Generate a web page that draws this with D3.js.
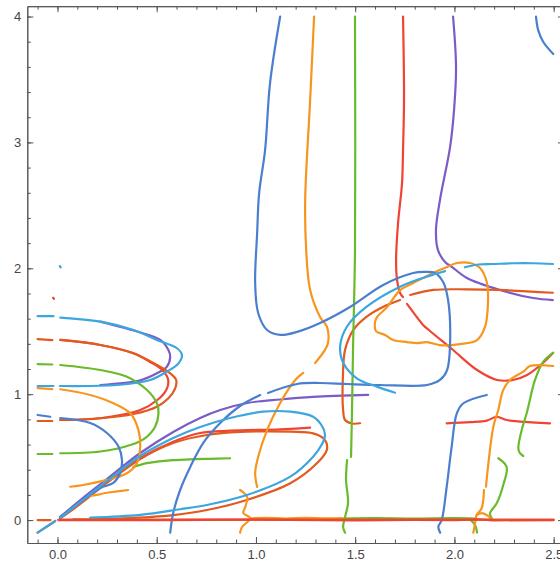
<!DOCTYPE html>
<html>
<head>
<meta charset="utf-8">
<script src="https://cdn.jsdelivr.net/npm/d3@7"></script>
<style>
  html, body { margin: 0; padding: 0; background: #fff; }
  svg { display: block; }
  .tick text { font-family: "Liberation Sans", Arial, sans-serif; font-size: 13px; fill: #444; }
</style>
</head>
<body>
<svg id="chart" width="560" height="566"></svg>
<script>
// ---------------- data (data units) ----------------
const xTickValues = [0, 0.5, 1, 1.5, 2, 2.5];
const xTickLabels = ["0.0", "0.5", "1.0", "1.5", "2.0", "2.5"];
const yTickValues = [0, 1, 2, 3, 4];
const yTickLabels = ["0", "1", "2", "3", "4"];
const xMinorTicks = [-0.1,0,0.1,0.2,0.3,0.4,0.5,0.6,0.7,0.8,0.9,1,1.1,1.2,1.3,1.4,1.5,1.6,1.7,1.8,1.9,2,2.1,2.2,2.3,2.4,2.5];
const yMinorTicks = [0,0.2,0.4,0.6,0.8,1,1.2,1.4,1.6,1.8,2,2.2,2.4,2.6,2.8,3,3.2,3.4,3.6,3.8,4];

const purpleCurves = [
  [[0.216,1.576],[0.417,1.49],[0.518,1.431],[0.559,1.351],[0.568,1.298],[0.551,1.218],[0.501,1.166],[0.417,1.11],[0.216,1.073]],
  [[0.014,0.025],[0.115,0.159],[0.249,0.326],[0.417,0.533],[0.583,0.700],[0.719,0.811],[0.820,0.874],[0.956,0.930],[1.122,0.958],[1.288,0.978],[1.565,0.994]],
  [[1.993,4.0],[2.008,3.598],[1.998,3.257],[1.978,2.963],[1.927,2.542],[1.907,2.304],[1.917,2.145],[1.953,2.050],[1.988,2.010],[2.063,1.923],[2.229,1.828],[2.396,1.764],[2.496,1.748]]
];
const redCurves = [
  [[0.014,1.431],[0.216,1.391],[0.383,1.325],[0.467,1.256],[0.528,1.192],[0.558,1.113],[0.548,1.034],[0.503,0.954],[0.417,0.874],[0.216,0.809],[0.014,0.795]],
  [[0.014,0.017],[0.115,0.136],[0.249,0.303],[0.417,0.493],[0.583,0.623],[0.719,0.692],[0.870,0.710],[1.122,0.721],[1.273,0.734]],
  [[1.741,4.0],[1.746,3.337],[1.741,2.940],[1.736,2.678],[1.716,2.360],[1.706,2.066],[1.711,1.907],[1.726,1.804],[1.741,1.772]],
  [[1.761,1.717],[1.776,1.685],[1.842,1.550],[1.877,1.502],[1.993,1.351],[2.114,1.192],[2.215,1.113],[2.295,1.113],[2.366,1.153],[2.446,1.248],[2.496,1.327]],
  [[1.961,0.769],[2.079,0.778],[2.163,0.790],[2.213,0.821],[2.263,0.795],[2.331,0.782],[2.482,0.769]],
  [[-0.022,1.766],[-0.018,1.758]]
];
const darkOrangeCurves = [
  [[-0.1,1.438],[-0.026,1.430]],
  [[0.014,1.431],[0.216,1.391],[0.383,1.325],[0.501,1.232],[0.568,1.166],[0.598,1.113],[0.593,1.047],[0.559,0.968],[0.501,0.901],[0.383,0.843],[0.216,0.809],[0.014,0.795]],
  [[-0.026,0.787],[-0.1,0.787]],
  [[0.014,0.013],[0.115,0.128],[0.249,0.295],[0.417,0.485],[0.583,0.612],[0.753,0.676],[0.954,0.702],[1.173,0.702],[1.288,0.689],[1.348,0.636],[1.357,0.557],[1.307,0.451],[1.173,0.292],[0.954,0.160],[0.753,0.080],[0.583,0.040],[0.331,0.014],[0.080,0.005]],
  [[-0.1,-0.1],[-0.011,-0.007]],
  [[2.496,1.806],[2.229,1.828],[2.062,1.833],[1.894,1.828],[1.777,1.788]],
  [[1.726,1.748],[1.642,1.695],[1.558,1.616],[1.491,1.511],[1.449,1.352],[1.438,1.139],[1.439,0.875],[1.449,0.795],[1.484,0.767],[1.525,0.769]]
];
const greenCurves = [
  [[-0.1,1.239],[-0.026,1.236]],
  [[0.014,1.232],[0.216,1.192],[0.350,1.139],[0.451,1.033],[0.501,0.928],[0.509,0.848],[0.492,0.742],[0.442,0.652],[0.367,0.596],[0.216,0.545],[0.014,0.531]],
  [[-0.026,0.525],[-0.1,0.525]],
  [[0.382,0.422],[0.45,0.452],[0.501,0.464],[0.58,0.476],[0.669,0.483],[0.76,0.487],[0.870,0.491]],
  [[1.499,4.0],[1.499,2.145],[1.489,1.351],[1.484,0.875],[1.479,0.501]],
  [[1.459,0.477],[1.454,0.319],[1.464,0.136],[1.449,0.025],[1.439,-0.055],[1.449,-0.1]],
  [[2.498,1.330],[2.448,1.258],[2.406,1.113],[2.364,0.848],[2.339,0.716],[2.322,0.570],[2.330,0.531],[2.347,0.509]],
  [[2.221,0.491],[2.263,0.422],[2.246,0.279],[2.213,0.133],[2.179,0.054],[2.188,0.014]],
  [[2.079,0.003],[2.104,-0.039],[2.114,-0.1]],
  [[1.43,0.012],[1.6,0.015],[1.8,0.012],[2.0,0.015],[2.1,0.012]]
];
const orangeCurves = [
  [[-0.1,1.049],[-0.026,1.041]],
  [[0.014,1.039],[0.165,0.994],[0.282,0.928],[0.367,0.848],[0.408,0.715],[0.417,0.584],[0.400,0.452],[0.350,0.372],[0.249,0.319],[0.131,0.279],[0.064,0.265]],
  [[0.155,0.191],[0.20,0.200],[0.241,0.215],[0.30,0.228],[0.356,0.239]],
  [[1.293,4.0],[1.273,3.337],[1.248,2.543],[1.253,2.146],[1.273,1.828],[1.323,1.614],[1.358,1.534],[1.363,1.407],[1.348,1.352],[1.298,1.248]],
  [[1.238,1.169],[1.198,1.113],[1.122,0.930],[1.056,0.715],[1.011,0.501],[0.996,0.374],[1.006,0.263]],
  [[0.920,0.239],[0.956,0.183],[0.946,0.104],[0.936,0.056],[0.971,0.014],[0.930,-0.055],[0.920,-0.1]],
  [[0.97,0.014],[1.05,0.018],[1.15,0.012],[1.25,0.018],[1.35,0.014],[1.43,0.016]],
  [[1.963,2.010],[1.892,1.963],[1.792,1.883],[1.726,1.827],[1.661,1.692],[1.610,1.613],[1.600,1.573],[1.605,1.501],[1.651,1.470],[1.691,1.430],[1.761,1.414],[1.812,1.406],[1.862,1.414],[1.927,1.390],[2.028,1.398],[2.114,1.430],[2.154,1.534],[2.169,1.724],[2.164,1.883],[2.129,2.002],[2.079,2.042],[2.013,2.042],[1.963,2.010]],
  [[2.498,1.224],[2.381,1.224],[2.347,1.179],[2.280,1.113],[2.246,1.034],[2.221,0.875],[2.196,0.742],[2.171,0.451],[2.159,0.265]],
  [[2.149,0.239],[2.137,0.094],[2.112,0.041],[2.104,-0.025],[2.095,-0.1]],
  [[2.112,0.041],[2.139,0.056],[2.169,0.033],[2.189,0.001]]
];
const blueCurves = [
  [[-0.1,0.835],[-0.036,0.821]],
  [[0.014,0.811],[0.165,0.771],[0.249,0.692],[0.308,0.583],[0.325,0.477],[0.316,0.374],[0.281,0.295],[0.216,0.255],[0.115,0.143],[0.014,0.025]],
  [[0.568,-0.1],[0.583,0.056],[0.618,0.239],[0.669,0.422],[0.734,0.612],[0.820,0.771],[0.920,0.906],[1.021,0.993]],
  [[1.061,1.010],[1.207,1.081],[1.323,1.089],[1.459,1.081],[1.625,1.073],[1.862,1.073],[1.927,1.113],[1.963,1.192],[1.978,1.407],[1.968,1.748],[1.943,1.891],[1.902,1.963],[1.852,1.971],[1.792,1.963],[1.641,1.868],[1.474,1.693],[1.323,1.566],[1.207,1.495],[1.122,1.471],[1.056,1.510],[1.011,1.645],[0.996,1.883],[1.006,2.280],[1.016,2.597],[1.046,2.939],[1.071,3.471],[1.122,4.0]],
  [[2.163,0.994],[2.045,0.928],[2.012,0.848],[1.986,0.583],[1.961,0.265],[1.936,0.001],[1.919,-0.052],[1.928,-0.1]],
  [[2.411,4.0],[2.422,3.892],[2.447,3.800],[2.498,3.702]]
];
const lightBlueCurves = [
  [[-0.1,1.62],[-0.02,1.62]],
  [[0.014,1.608],[0.216,1.576],[0.383,1.510],[0.501,1.431],[0.602,1.365],[0.627,1.312],[0.610,1.245],[0.551,1.179],[0.467,1.113],[0.300,1.073],[0.012,1.065]],
  [[-0.02,1.065],[-0.1,1.065]],
  [[0.014,0.017],[0.115,0.144],[0.249,0.311],[0.417,0.509],[0.583,0.652],[0.719,0.739],[0.870,0.811],[1.036,0.861],[1.173,0.861],[1.288,0.821],[1.333,0.747],[1.348,0.676],[1.333,0.604],[1.288,0.504],[1.173,0.345],[0.954,0.199],[0.753,0.120],[0.618,0.086],[0.417,0.041],[0.165,0.019]],
  [[-0.1,-0.1],[-0.011,-0.007]],
  [[1.953,1.978],[1.860,1.933],[1.726,1.854],[1.558,1.695],[1.458,1.536],[1.424,1.377],[1.441,1.245],[1.508,1.126],[1.609,1.060],[1.701,1.012]],
  [[2.053,2.008],[2.12,2.03],[2.194,2.034],[2.30,2.04],[2.396,2.040],[2.496,2.034]],
  [[0.012,2.018],[0.016,2.008]]
];
const baselineDarkOrange = [
  [[-0.1,0],[-0.035,0]],
  [[0.005,0.003],[2.5,0.003]]
];
const baselineRed = [
  [[0.005,0],[0.5,0.0],[1.0,0.003],[1.5,-0.002],[1.8,0.002],[2.0,0.0],[2.12,0.006],[2.2,-0.002],[2.5,0.0]]
];

const series = [
  { color: "#7a5cc6", curves: purpleCurves },
  { color: "#ef4433", curves: redCurves },
  { color: "#e25a1f", curves: darkOrangeCurves },
  { color: "#6abb2b", curves: greenCurves },
  { color: "#f7961e", curves: orangeCurves },
  { color: "#4a7fcf", curves: blueCurves },
  { color: "#3ba6df", curves: lightBlueCurves },
  { color: "#e25a1f", curves: baselineDarkOrange, linear: true },
  { color: "#ef4433", curves: baselineRed, linear: true }
];

// ---------------- layout ----------------
const svg = d3.select("#chart");
const fL = 27.3, fR = 564, fT = 6.2, fB = 543;
const x = d3.scaleLinear().domain([-0.152, 2.552]).range([fL, fR]);
const y = d3.scaleLinear().domain([-0.182, 4.082]).range([fB, fT]);

const smooth = d3.line().x(d => x(d[0])).y(d => y(d[1])).curve(d3.curveCatmullRom.alpha(0.5));
const straight = d3.line().x(d => x(d[0])).y(d => y(d[1]));

const plot = svg.append("g");
series.forEach(s => {
  plot.selectAll(null).data(s.curves).enter().append("path")
    .attr("d", d => (s.linear ? straight : smooth)(d))
    .attr("fill", "none")
    .attr("stroke", s.color)
    .attr("stroke-width", 2.2)
    .attr("stroke-linecap", "round")
    .attr("stroke-linejoin", "round");
});

// ---------------- frame & ticks ----------------
const frameColor = "#555";
function styleAxis(g) {
  g.selectAll(".domain").attr("stroke", frameColor).attr("stroke-width", 1);
  g.selectAll(".tick line").attr("stroke", frameColor).attr("stroke-width", 1);
}
svg.append("g").attr("transform", `translate(0,${fB})`)
  .call(d3.axisBottom(x).tickValues(xMinorTicks).tickSize(-3.5).tickSizeOuter(0).tickFormat(""))
  .call(styleAxis);
svg.append("g").attr("transform", `translate(0,${fB})`)
  .call(d3.axisBottom(x).tickValues(xTickValues).tickSize(-6).tickSizeOuter(0).tickPadding(7)
        .tickFormat((d, i) => xTickLabels[i]))
  .call(styleAxis);
svg.append("g").attr("transform", `translate(0,${fT})`)
  .call(d3.axisTop(x).tickValues(xMinorTicks).tickSize(-3.5).tickSizeOuter(0).tickFormat(""))
  .call(styleAxis);
svg.append("g").attr("transform", `translate(0,${fT})`)
  .call(d3.axisTop(x).tickValues(xTickValues).tickSize(-6).tickSizeOuter(0).tickFormat(""))
  .call(styleAxis);
svg.append("g").attr("transform", `translate(${fL},0)`)
  .call(d3.axisLeft(y).tickValues(yMinorTicks).tickSize(-3.5).tickSizeOuter(0).tickFormat(""))
  .call(styleAxis);
svg.append("g").attr("transform", `translate(${fL},0)`)
  .call(d3.axisLeft(y).tickValues(yTickValues).tickSize(-6).tickSizeOuter(0).tickPadding(6)
        .tickFormat((d, i) => yTickLabels[i]))
  .call(styleAxis);
svg.append("g").attr("transform", `translate(${fR},0)`)
  .call(d3.axisRight(y).tickValues(yMinorTicks).tickSize(-3.5).tickSizeOuter(0).tickFormat(""))
  .call(styleAxis);
svg.append("g").attr("transform", `translate(${fR},0)`)
  .call(d3.axisRight(y).tickValues(yTickValues).tickSize(-6).tickSizeOuter(0).tickFormat(""))
  .call(styleAxis);
svg.selectAll(".tick text").attr("font-family", "Liberation Sans, Arial, sans-serif").attr("font-size", 13).attr("fill", "#444");
</script>
</body>
</html>
